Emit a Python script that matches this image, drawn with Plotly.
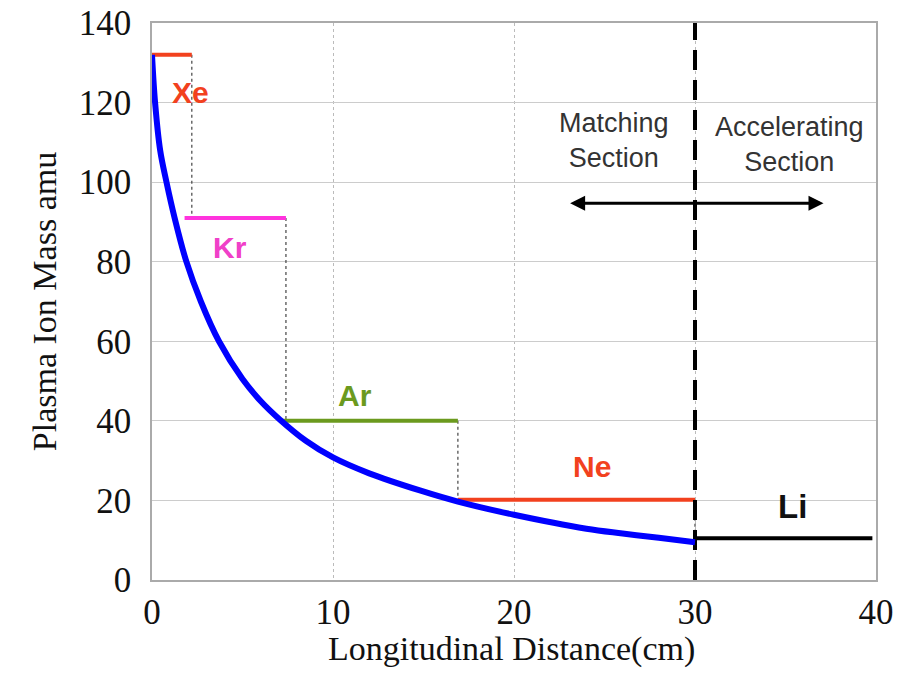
import plotly.graph_objects as go

# Blue curve: plasma ion mass vs longitudinal distance
curve_x = [0, 0.17, 0.45, 0.8, 1.25, 1.9, 2.7, 3.7, 5.0, 6.0, 7.07, 8.5, 10, 12, 14.8, 16.9, 20, 24, 26, 28, 30]
curve_y = [132, 120, 108, 100, 91, 80, 70, 60, 50.5, 45, 40.3, 35, 30.8, 26.8, 22.5, 19.7, 16.4, 12.9, 11.7, 10.6, 9.5]

# Step levels per gas species
elements = ["Xe", "Kr", "Ar", "Ne", "Li"]
mass_levels = [132, 91, 40, 20.2, 10.5]
seg_start = [0, 1.8, 7.1, 16.9, 30]
seg_end = [2.2, 7.4, 16.9, 30, 39.8]
seg_colors = ["#f2411e", "#ff33dd", "#6b9a1e", "#f2411e", "#000000"]

section_boundary = 30
x_ticks = [0, 10, 20, 30, 40]
y_ticks = [0, 20, 40, 60, 80, 100, 120, 140]

fig = go.Figure()

# dotted connectors
for i in range(len(elements) - 1):
    fig.add_trace(go.Scatter(
        x=[seg_end[i], seg_end[i]], y=[mass_levels[i], mass_levels[i + 1]],
        mode="lines", line=dict(color="#444444", width=1.2, dash="dot"),
        showlegend=False, hoverinfo="skip"))

# step segments
for i, el in enumerate(elements):
    fig.add_trace(go.Scatter(
        x=[seg_start[i], seg_end[i]], y=[mass_levels[i], mass_levels[i]],
        mode="lines", line=dict(color=seg_colors[i], width=4),
        showlegend=False, name=el))

# dashed boundary
fig.add_trace(go.Scatter(
    x=[section_boundary, section_boundary], y=[0, 140],
    mode="lines", line=dict(color="black", width=4, dash="20px,10px"),
    showlegend=False, hoverinfo="skip"))

# blue curve
fig.add_trace(go.Scatter(
    x=curve_x, y=curve_y, mode="lines",
    line=dict(color="#0000ff", width=6, shape="spline", smoothing=1.0),
    showlegend=False))

label_pos = {"Xe": (2.1, 122.5), "Kr": (4.3, 83.5), "Ar": (11.2, 46.5),
             "Ne": (24.3, 28.6), "Li": (35.4, 18.4)}
label_colors = {"Xe": "#f2411e", "Kr": "#f040c8", "Ar": "#6b9a1e",
                "Ne": "#f2411e", "Li": "#111111"}
for el in elements:
    lx, ly = label_pos[el]
    fig.add_annotation(x=lx, y=ly, text="<b>%s</b>" % el, showarrow=False,
                       font=dict(family="Liberation Sans", size=30 if el != "Li" else 33,
                                 color=label_colors[el]))

fig.add_annotation(x=25.5, y=110.5, text="Matching<br>Section", showarrow=False,
                   font=dict(family="Liberation Sans", size=27, color="#333333"))
fig.add_annotation(x=35.2, y=109.5, text="Accelerating<br>Section", showarrow=False,
                   font=dict(family="Liberation Sans", size=27, color="#333333"))

# double-headed arrow
fig.add_annotation(x=23.1, y=94.7, ax=30, ay=94.7, xref="x", yref="y", axref="x", ayref="y",
                   showarrow=True, arrowhead=2, arrowsize=1, arrowwidth=3, arrowcolor="black", text="")
fig.add_annotation(x=37.1, y=94.7, ax=30, ay=94.7, xref="x", yref="y", axref="x", ayref="y",
                   showarrow=True, arrowhead=2, arrowsize=1, arrowwidth=3, arrowcolor="black", text="")

# x-axis title (placed as annotation to sit closer to tick labels)
fig.add_annotation(x=0.497, y=-0.124, xref="paper", yref="paper", xanchor="center", yanchor="middle",
                   text="Longitudinal Distance(cm)", showarrow=False,
                   font=dict(family="Liberation Serif", size=34, color="#111111"))

fig.update_layout(
    width=908, height=683,
    margin=dict(l=152, r=32, t=23, b=103, autoexpand=False),
    paper_bgcolor="white", plot_bgcolor="white",
    font=dict(family="Liberation Serif", size=34, color="#111111"),
)
fig.update_xaxes(
    range=[0, 40], tickvals=x_ticks, showgrid=True, gridcolor="#bbbbbb", griddash="dot", gridwidth=1,
    zeroline=False, showline=True, linecolor="#aaaaaa", linewidth=1.5, mirror=True,
    ticks="", tickfont=dict(size=35), ticklabelstandoff=0, automargin=False,
)
fig.update_yaxes(
    range=[0, 140], tickvals=y_ticks, showgrid=True, gridcolor="#cccccc", gridwidth=1.2,
    zeroline=False, showline=True, linecolor="#aaaaaa", linewidth=1.5, mirror=True,
    ticks="", tickfont=dict(size=35), ticklabelstandoff=12, automargin=False,
    title=dict(text="Plasma Ion Mass amu", font=dict(size=34), standoff=12),
)

fig.write_html("out.html")
